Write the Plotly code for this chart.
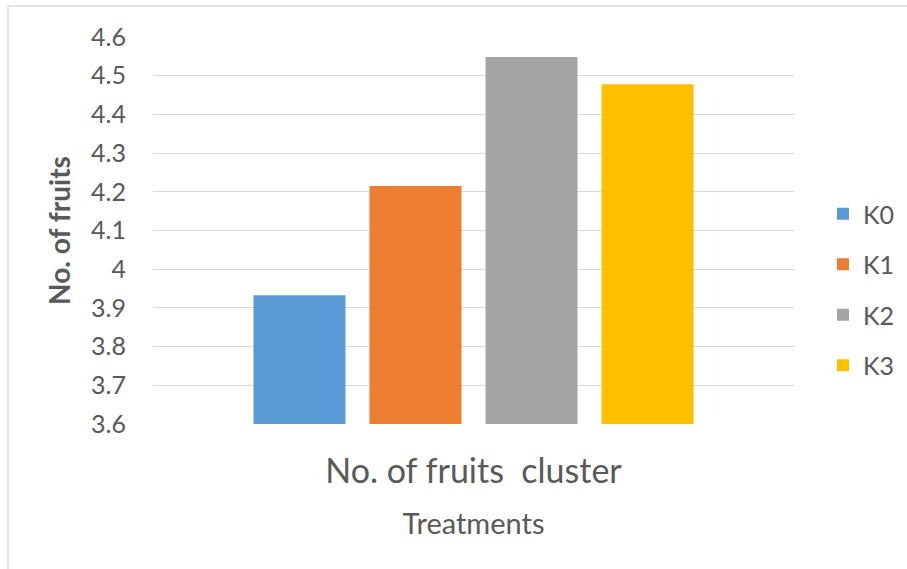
import plotly.graph_objects as go

# Data
category = ["No. of fruits\u00a0 cluster"]
treatments = ["K0", "K1", "K2", "K3"]
fruits_per_cluster = [3.933, 4.215, 4.548, 4.478]
bar_colors = ["#5B9BD5", "#ED7D31", "#A5A5A5", "#FFC000"]
y_ticks = [3.6, 3.7, 3.8, 3.9, 4.0, 4.1, 4.2, 4.3, 4.4, 4.5, 4.6]

TEXT = "#595959"
GRID = "#D9D9D9"
FONT = "Lato"

fig = go.Figure()
for name, val, col in zip(treatments, fruits_per_cluster, bar_colors):
    fig.add_trace(go.Bar(
        x=category, y=[val], name=name,
        marker=dict(color=col, line=dict(width=0)),
        legendgroup=name,
        hoverinfo="skip",
    ))

W, H = 907, 569
L, R, T, B = 153, 113, 37, 145
pw, ph = W - L - R, H - T - B


def px_x(x):
    return (x - L) / pw


def px_y(y):
    return (H - B - y) / ph


fig.update_layout(
    width=W, height=H,
    margin=dict(l=L, r=R, t=T, b=B, autoexpand=False),
    paper_bgcolor="white", plot_bgcolor="white",
    font=dict(family=FONT, color=TEXT, size=25),
    barmode="group", bargap=0.276, bargroupgap=0.207,
    showlegend=True,
    legend=dict(
        x=px_x(823), xanchor="left",
        y=px_y(191), yanchor="top",
        font=dict(size=25, color=TEXT),
        traceorder="grouped", tracegroupgap=15,
        bgcolor="rgba(0,0,0,0)",
    ),
    xaxis=dict(
        type="category", range=[-0.5, 0.5],
        showgrid=False, showline=False, ticks="",
        tickfont=dict(size=34, color=TEXT),
        ticklabelstandoff=24,
        title=dict(text="Treatments", font=dict(size=29, color=TEXT), standoff=24),
    ),
    yaxis=dict(
        range=[3.6, 4.6], tickvals=y_ticks,
        showgrid=True, gridcolor=GRID, gridwidth=1.3,
        zeroline=False, showline=False, ticks="",
        tickfont=dict(size=25, color=TEXT),
        ticklabelstandoff=26,
        title=dict(text="<b>No. of fruits</b>", font=dict(size=28, color=TEXT), standoff=12),
    ),
    shapes=[dict(
        type="rect", xref="paper", yref="paper",
        x0=px_x(8), x1=px_x(915), y0=px_y(580), y1=px_y(6),
        line=dict(color=GRID, width=1.3), fillcolor="rgba(0,0,0,0)", layer="below",
    )],
)

fig.write_html("out.html")
